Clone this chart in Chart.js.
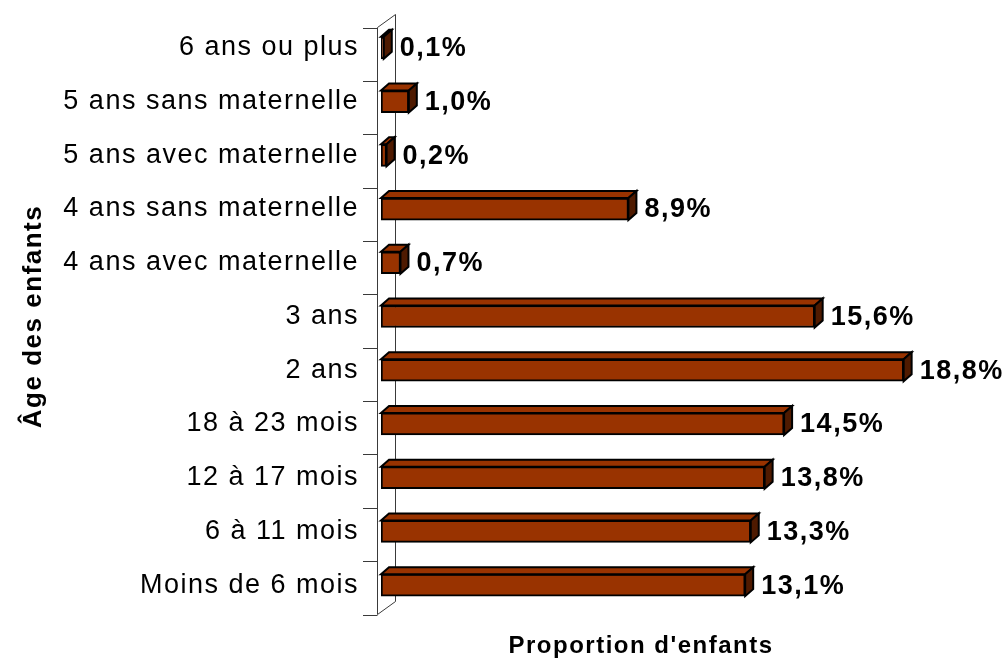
<!DOCTYPE html>
<html>
<head>
<meta charset="utf-8">
<script src="https://cdn.jsdelivr.net/npm/chart.js@4/dist/chart.umd.min.js"></script>
<style>
  html, body { margin: 0; padding: 0; background: #ffffff; }
  #wrap { width: 1005px; height: 662px; }
</style>
</head>
<body>
<div id="wrap"><canvas id="c" width="1005" height="662"></canvas></div>
<script>
const categories = [
  '6 ans ou plus',
  '5 ans sans maternelle',
  '5 ans avec maternelle',
  '4 ans sans maternelle',
  '4 ans avec maternelle',
  '3 ans',
  '2 ans',
  '18 à 23 mois',
  '12 à 17 mois',
  '6 à 11 mois',
  'Moins de 6 mois'
];
const values = [0.1, 1.0, 0.2, 8.9, 0.7, 15.6, 18.8, 14.5, 13.8, 13.3, 13.1];
const xTitle = "Proportion d'enfants";
const yTitle = 'Âge des enfants';

const FONT = "'Liberation Sans', Arial, sans-serif";
const FRONT = '#993300';
const TOP = '#993300';
const SIDE = '#4f1a00';
const DX = 8, DY = 7;

function fmt(v) { return v.toFixed(1).replace('.', ',') + '%'; }

const spacingPlugin = {
  id: 'spacing',
  beforeUpdate(chart) { chart.ctx.letterSpacing = '1.5px'; },
  beforeLayout(chart) { chart.ctx.letterSpacing = '1.5px'; },
  beforeDraw(chart) { chart.ctx.letterSpacing = '1.5px'; }
};

const framePlugin = {
  id: 'frame3d',
  beforeDatasetsDraw(chart) {
    const ctx = chart.ctx;
    const ca = chart.chartArea;
    const fx = ca.left - 4;
    const fTop = ca.top + 6.5;
    const fBot = ca.bottom + 2.5;
    const n = chart.data.labels.length;
    const step = (fBot - fTop) / n;
    ctx.save();
    ctx.strokeStyle = '#3a3a3a';
    ctx.lineWidth = 1;
    ctx.beginPath();
    ctx.moveTo(fx + 0.5, fTop);
    ctx.lineTo(fx + 0.5, fBot);
    ctx.moveTo(fx + 18.5, fTop - 13);
    ctx.lineTo(fx + 18.5, fBot - 13);
    ctx.moveTo(fx + 0.5, fTop);
    ctx.lineTo(fx + 18.5, fTop - 13);
    ctx.moveTo(fx + 0.5, fBot);
    ctx.lineTo(fx + 18.5, fBot - 13);
    for (let i = 0; i <= n; i++) {
      const y = Math.round(fTop + i * step) + 0.5;
      ctx.moveTo(fx - 14, y);
      ctx.lineTo(fx + 0.5, y);
    }
    ctx.stroke();
    ctx.restore();
  },
  afterDatasetsDraw(chart) {
    const ctx = chart.ctx;
    const meta = chart.getDatasetMeta(0);
    ctx.save();
    ctx.lineWidth = 2;
    ctx.lineJoin = 'miter';
    ctx.strokeStyle = '#000000';
    meta.data.forEach((bar, i) => {
      const x0 = bar.base, x1 = bar.x;
      const t = bar.y - bar.height / 2, b = bar.y + bar.height / 2;
      ctx.beginPath();
      ctx.moveTo(x0, t);
      ctx.lineTo(x0 + DX, t - DY);
      ctx.lineTo(x1 + DX, t - DY);
      ctx.lineTo(x1, t);
      ctx.closePath();
      ctx.fillStyle = TOP;
      ctx.fill();
      ctx.stroke();
      ctx.beginPath();
      ctx.moveTo(x1, t);
      ctx.lineTo(x1 + DX, t - DY);
      ctx.lineTo(x1 + DX, b - DY);
      ctx.lineTo(x1, b);
      ctx.closePath();
      ctx.fillStyle = SIDE;
      ctx.fill();
      ctx.stroke();
      ctx.fillStyle = '#000000';
      ctx.font = 'bold 27px ' + FONT;
      ctx.textAlign = 'left';
      ctx.textBaseline = 'middle';
      ctx.fillText(fmt(values[i]), x1 + 16, bar.y + 1);
    });
    ctx.font = 'bold 24px ' + FONT;
    ctx.textAlign = 'center';
    ctx.textBaseline = 'middle';
    ctx.fillStyle = '#000000';
    ctx.fillText(xTitle, 641, 646);
    ctx.restore();
  }
};

new Chart(document.getElementById('c'), {
  type: 'bar',
  data: {
    labels: categories,
    datasets: [{
      data: values,
      backgroundColor: FRONT,
      borderColor: '#000000',
      borderWidth: 2,
      borderSkipped: false,
      barThickness: 22
    }]
  },
  options: {
    indexAxis: 'y',
    responsive: false,
    animation: false,
    devicePixelRatio: 1,
    layout: { padding: { left: 0, right: 68, top: 21, bottom: 50 } },
    plugins: {
      legend: { display: false },
      tooltip: { enabled: false }
    },
    scales: {
      x: {
        display: false,
        min: 0,
        max: 20
      },
      y: {
        grid: {
          display: true,
          drawOnChartArea: false,
          drawTicks: true,
          tickLength: 22,
          color: 'rgba(0,0,0,0)',
          tickColor: 'rgba(0,0,0,0)'
        },
        border: { display: false },
        ticks: {
          color: '#000000',
          font: { family: FONT, size: 27 },
          padding: 0
        },
        title: {
          display: true,
          text: yTitle,
          color: '#000000',
          font: { family: FONT, size: 26, weight: 'bold' },
          padding: { top: 18, bottom: 0 }
        },
        afterFit(scale) { scale.width = 381; }
      }
    }
  },
  plugins: [spacingPlugin, framePlugin]
});
</script>
</body>
</html>
